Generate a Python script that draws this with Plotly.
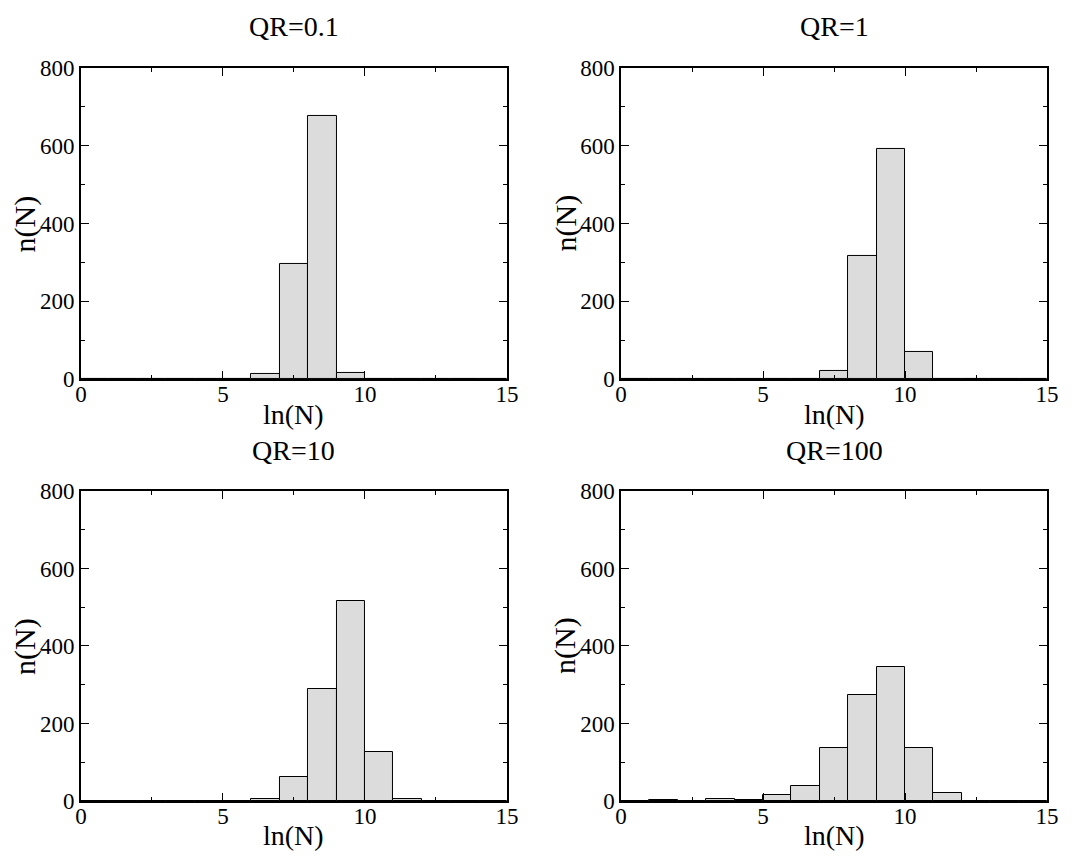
import plotly.graph_objects as go

# bin centers (bins of width 1 on ln(N))
bin_centers = [0.5, 1.5, 2.5, 3.5, 4.5, 5.5, 6.5, 7.5, 8.5, 9.5, 10.5, 11.5, 12.5, 13.5, 14.5]

counts_qr01 = [0, 0, 0, 0, 0, 1, 13, 295, 676, 15, 0, 0, 0, 0, 0]
counts_qr1 = [0, 0, 0, 0, 0, 0, 1, 22, 316, 591, 70, 0, 0, 0, 0]
counts_qr10 = [0, 0, 0, 0, 0, 0, 5, 62, 289, 515, 126, 4, 0, 0, 0]
counts_qr100 = [0, 2, 0, 5, 2, 16, 39, 136, 273, 346, 137, 21, 0, 0, 0]

titles = ["QR=0.1", "QR=1", "QR=10", "QR=100"]
x_ticks = [0, 5, 10, 15]
y_ticks = [0, 200, 400, 600, 800]

FONT = "Liberation Serif, Times New Roman, serif"

series = [counts_qr01, counts_qr1, counts_qr10, counts_qr100]

xdoms = [[0.0747, 0.4677], [0.5729, 0.9659]]
ydoms = [[0.5572, 0.9206], [0.0643, 0.4264]]

fig = go.Figure()
annotations = []
for i, counts in enumerate(series):
    r, c = divmod(i, 2)
    idx = i + 1
    xa = "x" if idx == 1 else f"x{idx}"
    ya = "y" if idx == 1 else f"y{idx}"
    fig.add_trace(go.Bar(
        x=bin_centers, y=counts, width=1,
        marker=dict(color="#dcdcdc", line=dict(color="black", width=1)),
        xaxis=xa, yaxis=ya, showlegend=False,
    ))
    axis_common = dict(
        showline=True, linecolor="black", linewidth=1.5, mirror="ticks",
        ticks="inside", ticklen=8, tickwidth=1, tickcolor="black",
        showgrid=False, zeroline=False, automargin=False,
        tickfont=dict(family=FONT, size=23, color="black"),
    )
    fig.layout[f"xaxis{'' if idx == 1 else idx}"] = dict(
        axis_common, domain=xdoms[c], range=[0, 15], tickvals=x_ticks,
        minor=dict(tickvals=[2.5, 7.5, 12.5], ticklen=4, ticks="inside", tickcolor="black"),
        anchor=ya, ticklabelstandoff=-6,
    )
    fig.layout[f"yaxis{'' if idx == 1 else idx}"] = dict(
        axis_common, domain=ydoms[r], range=[0, 800], tickvals=y_ticks,
        minor=dict(tickvals=[100, 300, 500, 700], ticklen=4, ticks="inside", tickcolor="black"),
        anchor=xa, ticklabelstandoff=0,
    )
    xc = (xdoms[c][0] + xdoms[c][1]) / 2
    annotations.append(dict(text=titles[i], x=xc, y=ydoms[r][1], xref="paper", yref="paper",
                            xanchor="center", yanchor="middle",
                            yshift=41, showarrow=False, font=dict(family=FONT, size=28, color="black")))
    annotations.append(dict(text="ln(N)", x=xc, y=ydoms[r][0], xref="paper", yref="paper",
                            xanchor="center", yanchor="middle",
                            yshift=-35, showarrow=False, font=dict(family=FONT, size=28, color="black")))
    yc = (ydoms[r][0] + ydoms[r][1]) / 2
    annotations.append(dict(text="n(N)", x=xdoms[c][0], y=yc, xref="paper", yref="paper",
                            xanchor="center", yanchor="middle",
                            xshift=-56, textangle=-90, showarrow=False,
                            font=dict(family=FONT, size=30, color="black")))

fig.update_layout(
    width=1084, height=856,
    margin=dict(l=0, r=0, t=0, b=0),
    paper_bgcolor="white", plot_bgcolor="white",
    bargap=0, annotations=annotations,
)

fig.write_html("out.html")
